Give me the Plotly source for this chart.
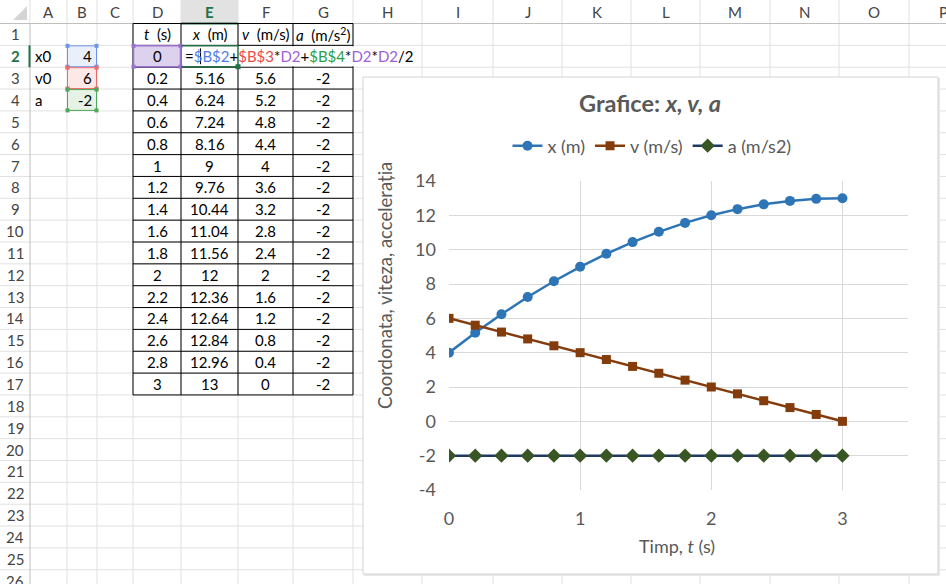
import plotly.graph_objects as go

# ---------------- data ----------------
t_vals = [0, 0.2, 0.4, 0.6, 0.8, 1, 1.2, 1.4, 1.6, 1.8, 2, 2.2, 2.4, 2.6, 2.8, 3]
x_vals = [4, 5.16, 6.24, 7.24, 8.16, 9, 9.76, 10.44, 11.04, 11.56, 12, 12.36, 12.64, 12.84, 12.96, 13]
v_vals = [6, 5.6, 5.2, 4.8, 4.4, 4, 3.6, 3.2, 2.8, 2.4, 2, 1.6, 1.2, 0.8, 0.4, 0]
a_vals = [-2] * 16
param_names = ["x0", "v0", "a"]
param_vals = [4, 6, -2]
col_letters = ["A", "B", "C", "D", "E", "F", "G", "H", "I", "J", "K", "L", "M", "N", "O", "P"]
table_headers = ["<i>t</i>  (s)", "<i>x</i>  (m)", "<i>v</i>  (m/s)", "<i>a</i>  (m/s<sup>2</sup>)"]
series_names = ["x (m)", "v (m/s)", "a (m/s2)"]
y_ticks = [-4, -2, 0, 2, 4, 6, 8, 10, 12, 14]
x_ticks = [0, 1, 2, 3]

W, H = 946, 584
FONT = "Lato"


def X(p):
    return p / W


def Y(p):
    return 1 - p / H


col_edges = [0, 30, 67, 97, 133, 181, 238, 293, 353, 422, 493, 562, 631, 700, 770, 839, 909, 978]
ROW_TOP = 23.5
RH = 21.85


def row_top(r):
    return ROW_TOP + (r - 1) * RH


def row_mid(r):
    return row_top(r) + RH / 2


shapes = []
ann = []


def line(x0, y0, x1, y1, color, width=1):
    shapes.append(dict(type="line", xref="paper", yref="paper", x0=X(x0), y0=Y(y0), x1=X(x1), y1=Y(y1),
                       line=dict(color=color, width=width), layer="below"))


def rect(x0, y0, x1, y1, fill, lc=None, lw=1):
    shapes.append(dict(type="rect", xref="paper", yref="paper", x0=X(x0), y0=Y(y0), x1=X(x1), y1=Y(y1),
                       fillcolor=fill, line=dict(color=lc if lc else fill, width=lw if lc else 0), layer="below"))


def text(x, y, s, size=15, color="#000000", xanchor="center", bold=False):
    if bold:
        s = "<b>" + s + "</b>"
    ann.append(dict(xref="paper", yref="paper", x=X(x), y=Y(y), text=s, showarrow=False,
                    xanchor=xanchor, yanchor="middle", font=dict(family=FONT, size=size, color=color)))


GRID = "#E1E1E1"
HDR = "#BFBFBF"

# grid lines
for r in range(1, 27):
    yy = row_top(r)
    line(0, yy, W, yy, GRID)
for e in col_edges[2:]:
    if e <= W:
        line(e, ROW_TOP, e, H, GRID)
# header separators
for e in col_edges[1:]:
    if e <= W:
        line(e, 0, e, ROW_TOP, GRID)
line(0, ROW_TOP, W, ROW_TOP, HDR)
line(col_edges[1], ROW_TOP, col_edges[1], H, HDR)

# selected column E header
rect(181, 0, 238, ROW_TOP - 0.5, "#E2E2E2")
line(181, ROW_TOP, 238, ROW_TOP, "#217346", 2)
# row 2 header marker
line(29.5, row_top(2), 29.5, row_top(3), "#217346", 2)

# corner triangle
shapes.append(dict(type="path", xref="paper", yref="paper",
                   path=f"M {X(27)},{Y(6)} L {X(27)},{Y(20)} L {X(13)},{Y(20)} Z",
                   fillcolor="#D5D5D5", line=dict(width=0), layer="below"))

# column header labels
for i, c in enumerate(col_letters):
    cx = (col_edges[i + 1] + col_edges[i + 2]) / 2
    if c == "E":
        text(cx, 12, c, size=15, color="#217346", bold=True)
    else:
        text(cx, 12, c, size=15, color="#444444")

# row header labels
for r in range(1, 27):
    if r == 2:
        text(15, row_mid(r), str(r), size=15, color="#217346", bold=True)
    else:
        text(15, row_mid(r), str(r), size=15, color="#444444")

# parameter cells
pcols = [("#EAF0FB", "#6E95E6"), ("#FDE8E8", "#EE6B6B"), ("#E5F2E5", "#4FA75A")]
for k, (nm, val) in enumerate(zip(param_names, param_vals)):
    r = 2 + k
    text(33, row_mid(r), nm, xanchor="left")
    f, lc = pcols[k]
    rect(67.5, row_top(r) + 0.5, 96.5, row_top(r + 1) - 0.5, f, lc, 1)
    for (hx, hy) in [(67.5, row_top(r) + 0.5), (96.5, row_top(r) + 0.5), (67.5, row_top(r + 1) - 0.5), (96.5, row_top(r + 1) - 0.5)]:
        rect(hx - 2, hy - 2, hx + 2, hy + 2, lc)
    text(94, row_mid(r), f"{val:g}", xanchor="right")

# table borders
tcols = [133, 181, 238, 293, 353]
for e in tcols:
    line(e, row_top(1), e, row_top(18), "#000000", 1)
for r in range(1, 19):
    line(133, row_top(r), 353, row_top(r), "#000000", 1)

# row 2 being edited: formula overflows
rect(182, row_top(2) + 1, 421, row_top(3) - 1, "#FFFFFF")
# D2 purple box
rect(133.5, row_top(2) + 0.5, 180.5, row_top(3) - 0.5, "#DCD2EE", "#9B72CF", 1.5)
for (hx, hy) in [(133.5, row_top(2) + 0.5), (180.5, row_top(2) + 0.5), (133.5, row_top(3) - 0.5), (180.5, row_top(3) - 0.5)]:
    rect(hx - 2, hy - 2, hx + 2, hy + 2, "#9B72CF")
# active cell E2 green border
line(181, row_top(2) + 0.5, 238, row_top(2) + 0.5, "#217346", 1.5)
line(181, row_top(3) - 0.5, 238, row_top(3) - 0.5, "#217346", 1.5)
line(238, row_top(2) + 0.5, 238, row_top(3) - 0.5, "#217346", 1.5)
rect(235.5, row_top(3) - 3, 240.5, row_top(3) + 2, "#217346")
# text cursor
line(200.5, row_top(2) + 3, 200.5, row_top(3) - 3, "#000000", 1)

# header row texts
hcent = [(tcols[i] + tcols[i + 1]) / 2 for i in range(4)]
for i, h in enumerate(table_headers):
    text(hcent[i], row_mid(1), h)

# table values
for j in range(len(t_vals)):
    r = 2 + j
    text(hcent[0], row_mid(r), f"{t_vals[j]:g}")
    if j == 0:
        continue
    text(hcent[1], row_mid(r), f"{x_vals[j]:g}")
    text(hcent[2], row_mid(r), f"{v_vals[j]:g}")
    text(hcent[3], row_mid(r), f"{a_vals[j]:g}")

# formula
B = "#4F7FE6"
R = "#EE4B4B"
G = "#2E9E45"
P = "#A05ED6"


def sp(s, c):
    return f'<span style="color:{c}">{s}</span>'


formula = ("=" + sp("$B$2", B) + "+" + sp("$B$3", R) + "*" + sp("D2", P) + "+" + sp("$B$4", G)
           + "*" + sp("D2", P) + "*" + sp("D2", P) + "/2")
text(183, row_mid(2), formula, xanchor="left")

# chart box
rect(364, 78, 940, 576, "#E8E8E8")
rect(363, 77, 938, 574, "#FFFFFF", "#D4D4D4", 1)

# chart texts
CG = "#595959"
ann.append(dict(xref="paper", yref="paper", x=X(650), y=Y(103), text="<b>Grafice: <i>x, v, a</i></b>",
                showarrow=False, xanchor="center", yanchor="middle", font=dict(family=FONT, size=23.5, color=CG)))
ann.append(dict(xref="paper", yref="paper", x=X(385), y=Y(286), text="Coordonata, viteza, accelerația",
                textangle=-90, showarrow=False, xanchor="center", yanchor="middle",
                font=dict(family=FONT, size=18.5, color=CG)))
ann.append(dict(xref="paper", yref="paper", x=X(677), y=Y(546), text="Timp, <i>t</i> (s)",
                showarrow=False, xanchor="center", yanchor="middle", font=dict(family=FONT, size=18, color=CG)))

fig = go.Figure()
fig.add_trace(go.Scatter(x=t_vals, y=x_vals, name=series_names[0], mode="lines+markers",
                         line=dict(color="#2E75B6", width=2.5),
                         marker=dict(symbol="circle", size=10, color="#2E75B6")))
fig.add_trace(go.Scatter(x=t_vals, y=v_vals, name=series_names[1], mode="lines+markers",
                         line=dict(color="#843C0C", width=2.5),
                         marker=dict(symbol="square", size=9, color="#843C0C")))
fig.add_trace(go.Scatter(x=t_vals, y=a_vals, name=series_names[2], mode="lines+markers",
                         line=dict(color="#1F3864", width=2.5),
                         marker=dict(symbol="diamond", size=11, color="#375623")))

fig.update_layout(
    width=W, height=H, margin=dict(l=0, r=0, t=0, b=0, pad=0, autoexpand=False),
    paper_bgcolor="#FFFFFF", plot_bgcolor="rgba(0,0,0,0)",
    font=dict(family=FONT, color=CG),
    shapes=shapes, annotations=ann,
    showlegend=True,
    legend=dict(orientation="h", x=X(652), y=Y(146), xanchor="center", yanchor="middle",
                font=dict(family=FONT, size=18, color=CG), bgcolor="rgba(0,0,0,0)", itemwidth=30),
    xaxis=dict(domain=[X(449), X(908)], range=[0, 3.5], tickvals=x_ticks,
               ticktext=[str(v) for v in x_ticks], showgrid=True, automargin=False,
               gridcolor="#D9D9D9", gridwidth=1, zeroline=False, showline=False,
               tickfont=dict(family=FONT, size=18, color=CG), ticks="", ticklabelstandoff=16),
    yaxis=dict(domain=[Y(490), Y(181)], range=[-4, 14], tickvals=y_ticks,
               ticktext=[str(v) for v in y_ticks], showgrid=True, automargin=False,
               gridcolor="#D9D9D9", gridwidth=1, zeroline=False, showline=False,
               tickfont=dict(family=FONT, size=18, color=CG), ticks="", ticklabelstandoff=12),
)

fig.write_html("out.html")
